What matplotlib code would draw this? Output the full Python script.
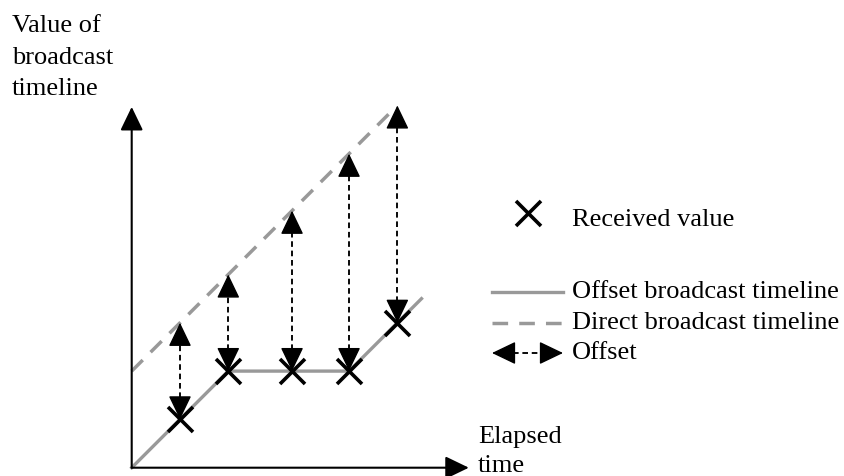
import matplotlib
matplotlib.use("Agg")
import matplotlib.pyplot as plt

plt.rcParams["font.family"] = ["Liberation Serif", "DejaVu Serif"]

# data (abstract units: elapsed time vs. value of broadcast timeline)
recv_t = [1.0, 2.0, 3.32, 4.5, 5.5]          # times at which values were received
recv_v = [1.0, 2.0, 2.0, 2.0, 3.0]           # received value
direct_at_recv = [3.0, 4.0, 5.32, 6.5, 7.5]  # direct timeline at those times

offset_t = [0.0, 2.0, 4.5, 6.0]
offset_v = [0.0, 2.0, 2.0, 3.5]
direct_t = [0.0, 5.35]
direct_v = [2.0, 7.35]

x_axis_end = 6.98
y_axis_end = 7.47

y_label_lines = ["Value of", "broadcast", "timeline"]
x_label_lines = ["Elapsed", "time"]
legend_labels = ["Received value", "Offset broadcast timeline",
                 "Direct broadcast timeline", "Offset"]

GRAY = "#999999"
FS = 19

W, H = 844, 476
fig = plt.figure(figsize=(W / 100, H / 100), dpi=100)
ax = fig.add_axes([0, 0, 1, 1])
ax.set_axis_off()

# pixel scale so the diagram sits where it does in the reference
U = 48.3
ox, oy = 131.7, 467.7
ax.set_xlim(-ox / U, (W - ox) / U)
ax.set_ylim(-(H - oy) / U, oy / U)
HEAD = 21 / U  # arrow head length in data units


def fp(x, y):
    # pixel position (from top-left) -> figure fraction
    return (x / W, 1 - y / H)


axis_arrow = dict(arrowstyle="-|>,head_length=1.45,head_width=0.7",
                  mutation_scale=10, lw=1.5, color="black",
                  shrinkA=0, shrinkB=0)
head_arrow = dict(arrowstyle="-|>,head_length=1.5,head_width=0.72",
                  mutation_scale=10, lw=1.0, color="black",
                  shrinkA=0, shrinkB=0)
DASH = (0, (3.0, 2.0))          # black offset shaft
GDASH = (0, (4.5, 3.2))         # gray direct timeline

# axes with arrow heads
ax.annotate("", xy=(x_axis_end, 0), xytext=(0, 0), arrowprops=axis_arrow)
ax.annotate("", xy=(0, y_axis_end), xytext=(0, 0), arrowprops=axis_arrow)

# timelines
ax.plot(direct_t, direct_v, color=GRAY, lw=2.5, linestyle=GDASH,
        dash_capstyle="butt")
ax.plot(offset_t, offset_v, color=GRAY, lw=2.4)

# offset arrows: dashed shaft with solid heads at both ends
for t, v, d in zip(recv_t, recv_v, direct_at_recv):
    ax.plot([t, t], [v + HEAD, d - HEAD], color="black", lw=1.35,
            linestyle=DASH, dash_capstyle="butt")
    ax.annotate("", xy=(t, d), xytext=(t, d - HEAD), arrowprops=head_arrow)
    ax.annotate("", xy=(t, v), xytext=(t, v + HEAD), arrowprops=head_arrow)

# received values
ax.plot(recv_t, recv_v, linestyle="none", marker="x", markersize=18,
        mew=2.6, color="black", zorder=5)

# axis labels
for i, s in enumerate(y_label_lines):
    fig.text(*fp(12, 32 + i * 31.5), s, fontsize=FS, ha="left", va="baseline")
for i, s in enumerate(x_label_lines):
    fig.text(*fp(478, 443 + i * 29), s, fontsize=FS, ha="left", va="baseline")

# legend drawn by hand
tf = fig.transFigure
mx, my = fp(528, 213)
ax.plot([mx], [my], transform=tf, marker="x", markersize=18, mew=2.6,
        color="black", linestyle="none")
fig.text(*fp(572, 226), legend_labels[0], fontsize=FS, ha="left", va="baseline")

row_y = [292, 323, 353]
x0, x1 = 492, 563
(a, b), (c, d) = fp(x0, row_y[0]), fp(x1, row_y[0])
ax.plot([a, c], [b, d], transform=tf, color=GRAY, lw=2.4)
(a, b), (c, d) = fp(x0, row_y[1]), fp(x1, row_y[1])
ax.plot([a, c], [b, d], transform=tf, color=GRAY, lw=2.5,
        linestyle=GDASH, dash_capstyle="butt")
# offset legend arrow
(a, b), (c, d) = fp(x0 + 21, row_y[2]), fp(x1 - 21, row_y[2])
ax.plot([a, c], [b, d], transform=tf, color="black", lw=1.35,
        linestyle=DASH, dash_capstyle="butt")
for tip, base in [(x0, x0 + 21), (x1, x1 - 21)]:
    ax.annotate("", xy=fp(tip, row_y[2]), xytext=fp(base, row_y[2]),
                xycoords="figure fraction", textcoords="figure fraction",
                arrowprops=head_arrow)
for y, s in zip(row_y, legend_labels[1:]):
    fig.text(*fp(572, y + 6), s, fontsize=FS, ha="left", va="baseline")

fig.savefig("out.png", dpi=100)
